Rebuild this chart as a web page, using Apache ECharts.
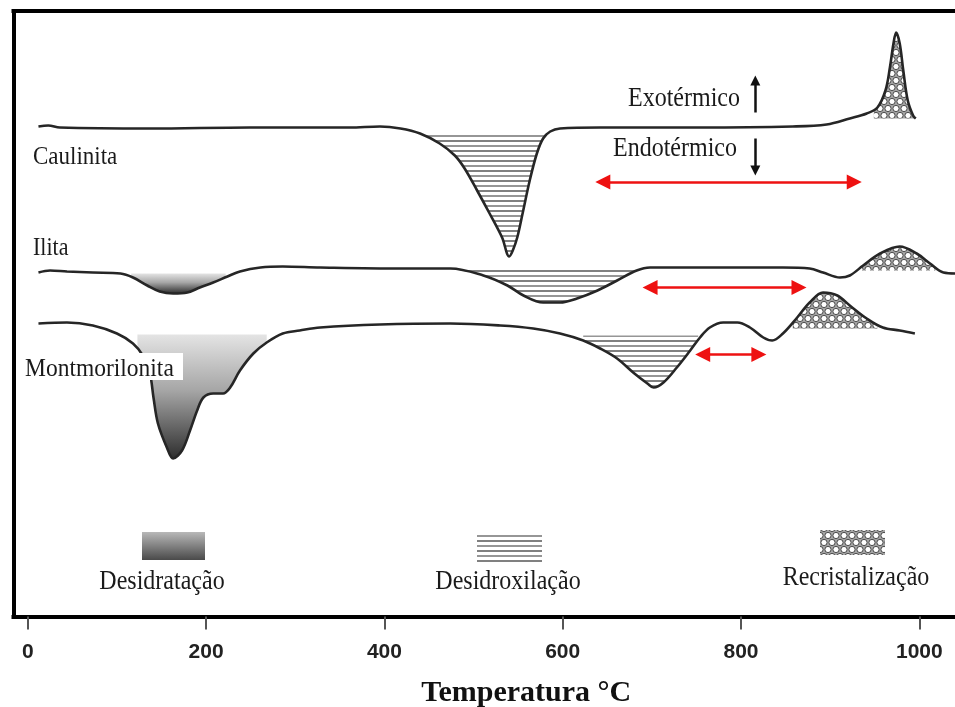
<!DOCTYPE html>
<html>
<head>
<meta charset="utf-8">
<script src="https://cdn.jsdelivr.net/npm/echarts@6/dist/echarts.min.js"></script>
<style>
  html, body { margin: 0; padding: 0; background: #fff; }
  #chart { width: 955px; height: 707px; }
</style>
</head>
<body>
<div id="chart"></div>
<script>
// Temperature tick labels (°C)
const tickValues = [0, 200, 400, 600, 800, 1000];

// DTA curves: temperature (°C) and signal (arbitrary units, curves offset vertically)
const caulinitaTemp   = [12, 23, 36, 137, 249, 361, 395, 418, 440, 462, 479, 490, 504, 518, 532, 540, 544, 549, 555, 563, 571, 578, 586, 597, 642, 754, 858, 896, 922, 941, 953, 962, 967, 971, 974, 978, 982, 987, 993, 996];
const caulinitaSignal = [490, 491, 489, 488, 489, 489, 490, 488, 483, 473, 461, 448, 426, 403, 379, 360, 366, 379, 403, 436, 463, 478, 485, 488, 489, 489, 490, 492, 498, 503, 509, 526, 549, 573, 584, 573, 546, 516, 501, 498];

const ilitaTemp   = [12, 25, 44, 73, 104, 118, 134, 148, 163, 179, 193, 208, 224, 238, 261, 286, 328, 418, 474, 511, 538, 556, 578, 597, 616, 639, 661, 683, 698, 773, 847, 877, 892, 911, 922, 937, 956, 978, 997, 1012, 1027, 1043];
const ilitaSignal = [344, 346, 345, 344, 343, 339, 331, 325, 323, 324, 329, 334, 340, 345, 349, 350, 349, 348, 348, 341, 331, 321, 314, 314, 318, 326, 336, 346, 349, 349, 349, 348, 344, 339, 341, 351, 363, 370, 363, 353, 344, 343];

const montTemp   = [12, 44, 73, 100, 118, 129, 137, 141, 146, 156, 163, 173, 182, 190, 197, 208, 219, 227, 238, 253, 268, 286, 305, 328, 395, 474, 530, 567, 597, 623, 642, 661, 679, 695, 702, 713, 728, 743, 754, 765, 780, 796, 810, 825, 835, 847, 863, 877, 892, 908, 922, 941, 959, 978, 995];
const montSignal = [293, 294, 291, 283, 273, 261, 243, 219, 193, 169, 158, 166, 186, 206, 219, 223, 223, 229, 246, 263, 274, 283, 286, 289, 292, 293, 291, 288, 283, 276, 268, 258, 244, 233, 229, 234, 249, 266, 279, 289, 294, 294, 289, 279, 276, 283, 299, 314, 324, 321, 311, 298, 289, 286, 283];

// Shaded events: [curve, from °C, to °C, reference level]
const dehydrationFills       = [['Ilita', 116, 222, 343], ['Montmorilonita', 123, 268, 282]];
const dehydroxylationFills   = [['Caulinita', 440, 582, 484], ['Ilita', 474, 683, 348], ['Montmorilonita', 623, 752, 281]];
const recrystallizationFills = [['Caulinita', 949, 996, 498], ['Ilita', 930, 1018, 346], ['Montmorilonita', 858, 953, 288]];

// Temperature ranges marked with red double arrows: [from °C, to °C, signal level]
const rangeArrows = [[645, 927, 434.5], [698, 865, 329], [757, 820, 262]];
// Exo / endo direction arrows: [temperature, start signal, end signal]
const exoArrow  = [816, 504, 536];
const endoArrow = [816, 478, 446];

const curves = {
  'Caulinita': [caulinitaTemp, caulinitaSignal],
  'Ilita': [ilitaTemp, ilitaSignal],
  'Montmorilonita': [montTemp, montSignal]
};

function pairs(ts, vs) { return ts.map((t, i) => [t, vs[i]]); }

function interp(ts, vs, t) {
  for (let i = 0; i < ts.length - 1; i++) {
    if (t >= ts[i] && t <= ts[i + 1]) {
      const f = (t - ts[i]) / (ts[i + 1] - ts[i]);
      return vs[i] + f * (vs[i + 1] - vs[i]);
    }
  }
  return vs[vs.length - 1];
}

function segment(name, from, to) {
  const [ts, vs] = curves[name];
  const out = [[from, interp(ts, vs, from)]];
  ts.forEach((t, i) => { if (t > from && t < to) out.push([t, vs[i]]); });
  out.push([to, interp(ts, vs, to)]);
  return out;
}

// Fill textures
function hatchPattern() {
  const c = document.createElement('canvas');
  c.width = 4; c.height = 10;
  const g = c.getContext('2d');
  g.fillStyle = '#ffffff'; g.fillRect(0, 0, 4, 10);
  g.fillStyle = '#808080'; g.fillRect(0, 0, 4, 2);
  g.fillStyle = '#969696'; g.fillRect(0, 5, 4, 2);
  return { image: c, repeat: 'repeat' };
}

function circlePattern() {
  const c = document.createElement('canvas');
  c.width = 8; c.height = 14;
  const g = c.getContext('2d');
  g.fillStyle = '#a4a4a4'; g.fillRect(0, 0, 8, 14);
  g.fillStyle = '#ffffff'; g.strokeStyle = '#4a4a4a'; g.lineWidth = 1;
  [[4, 3.5], [0, 10.5], [8, 10.5]].forEach(([x, y]) => {
    g.beginPath(); g.arc(x, y, 3.1, 0, Math.PI * 2); g.fill(); g.stroke();
  });
  return { image: c, repeat: 'repeat' };
}

const hatch = hatchPattern();
const circles = circlePattern();
const dehydrationGradient = () => new echarts.graphic.LinearGradient(0, 0, 0, 1, [
  { offset: 0, color: '#e4e4e4' }, { offset: 0.45, color: '#a6a6a6' }, { offset: 1, color: '#2e2e2e' }
]);

const SMOOTH = 0.35;
const series = [];

function addFills(list, colorFn) {
  list.forEach(([name, from, to, level]) => {
    series.push({
      type: 'line',
      data: segment(name, from, to),
      smooth: SMOOTH,
      symbol: 'none',
      silent: true,
      lineStyle: { width: 0, opacity: 0 },
      areaStyle: { color: colorFn(), origin: level, opacity: 1 },
      z: 1
    });
  });
}
addFills(dehydrationFills, dehydrationGradient);
addFills(dehydroxylationFills, () => hatch);
addFills(recrystallizationFills, () => circles);

Object.keys(curves).forEach(name => {
  const [ts, vs] = curves[name];
  series.push({
    type: 'line',
    name: name,
    data: pairs(ts, vs),
    smooth: SMOOTH,
    symbol: 'none',
    silent: true,
    lineStyle: { color: '#262626', width: 2.6 },
    z: 3
  });
});

// Range arrows (red) and heat-flow direction arrows (black)
series.push({
  type: 'line', data: [], silent: true,
  markLine: {
    silent: true, animation: false,
    symbol: ['triangle', 'triangle'], symbolSize: 15,
    label: { show: false },
    lineStyle: { color: '#ee1111', width: 2.5, type: 'solid' },
    data: rangeArrows.map(([a, b, y]) => [{ coord: [a, y] }, { coord: [b, y] }])
  },
  z: 4
});
series.push({
  type: 'line', data: [], silent: true,
  markLine: {
    silent: true, animation: false,
    symbol: ['none', 'triangle'], symbolSize: 10,
    label: { show: false },
    lineStyle: { color: '#111111', width: 2.5, type: 'solid' },
    data: [exoArrow, endoArrow].map(([t, y0, y1]) => [{ coord: [t, y0] }, { coord: [t, y1] }])
  },
  z: 4
});

const serif = 'Liberation Serif, Times New Roman, serif';
function label(text, x, y, size, align) {
  return {
    type: 'text', x: x, y: y, scaleY: 1.1, z: 100,
    style: { text: text, fontSize: size, fontFamily: serif, fill: '#1a1a1a', align: align, verticalAlign: 'middle' }
  };
}

const frameLine = { show: true, onZero: false, lineStyle: { color: '#000', width: 4, cap: 'square' } };

const option = {
  animation: false,
  backgroundColor: '#ffffff',
  grid: { left: 13.5, top: 11, width: 941.5, height: 605.5, show: false, containLabel: false, outerBoundsMode: 'none' },
  xAxis: [{
    type: 'value', min: -16, max: 1040, position: 'bottom',
    name: 'Temperatura °C', nameLocation: 'middle', nameGap: 62,
    nameTextStyle: { fontFamily: serif, fontWeight: 'bold', fontSize: 30, color: '#111', padding: [0, 0, 0, 84] },
    axisLine: frameLine,
    splitLine: { show: false },
    axisTick: { show: true, customValues: tickValues, length: 13, inside: false, lineStyle: { color: '#555', width: 2 } },
    axisLabel: { customValues: tickValues, margin: 25, formatter: v => String(v),
      fontFamily: 'Liberation Sans, Arial, sans-serif', fontWeight: 'bold', fontSize: 21, color: '#222' }
  }, {
    type: 'value', min: -16, max: 1040, position: 'top',
    axisLine: frameLine, axisTick: { show: false }, axisLabel: { show: false }, splitLine: { show: false }
  }],
  yAxis: {
    type: 'value', min: 0, max: 605.5, position: 'left',
    axisLine: frameLine, axisTick: { show: false }, axisLabel: { show: false }, splitLine: { show: false }
  },
  series: series,
  graphic: [
    label('Caulinita', 33, 157, 23, 'left'),
    label('Ilita', 33, 249, 22, 'left'),
    { type: 'rect', z: 99, shape: { x: 22, y: 353, width: 161, height: 27 }, style: { fill: '#ffffff' } },
    label('Montmorilonita', 25, 369, 23.5, 'left'),
    label('Exotérmico', 740, 99, 24, 'right'),
    label('Endotérmico', 737, 149, 24, 'right'),
    { type: 'rect', z: 100, shape: { x: 142, y: 532, width: 63, height: 28 },
      style: { fill: new echarts.graphic.LinearGradient(0, 0, 0, 1, [{ offset: 0, color: '#b8b8b8' }, { offset: 1, color: '#4a4a4a' }]) } },
    { type: 'rect', z: 100, shape: { x: 477, y: 533, width: 65, height: 29 }, style: { fill: hatch } },
    { type: 'rect', z: 100, shape: { x: 820, y: 530, width: 65, height: 25 }, style: { fill: circles } },
    label('Desidratação', 162, 582, 24, 'center'),
    label('Desidroxilação', 508, 582, 24, 'center'),
    label('Recristalização', 856, 578, 24, 'center')
  ]
};

const chart = echarts.init(document.getElementById('chart'), null, { renderer: 'canvas' });
chart.setOption(option);
</script>
</body>
</html>
